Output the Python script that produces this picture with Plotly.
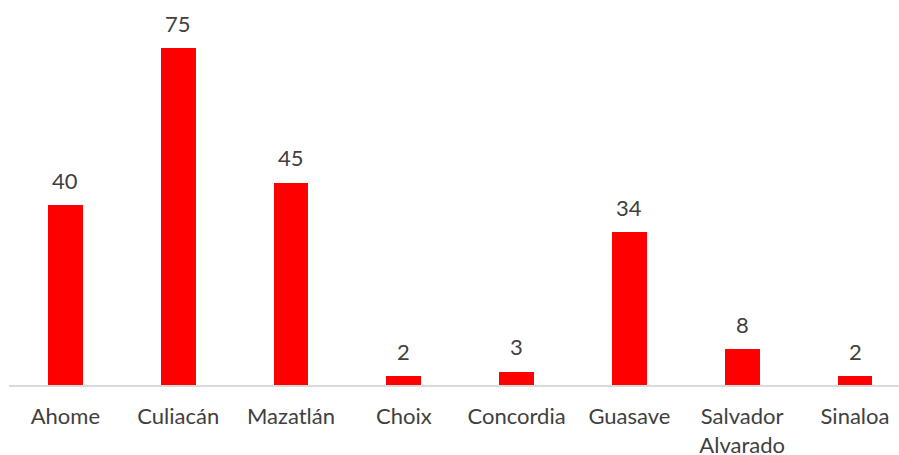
import plotly.graph_objects as go

categories = ["Ahome", "Culiacán", "Mazatlán", "Choix", "Concordia", "Guasave", "Salvador<br>Alvarado", "Sinaloa"]
values = [40, 75, 45, 2, 3, 34, 8, 2]

xpos = list(range(len(categories)))

fig = go.Figure(go.Bar(
    x=xpos, y=values, width=0.31,
    marker=dict(color="#FF0000", line=dict(width=0)),
    hoverinfo="skip",
))

for xi, v in zip(xpos, values):
    fig.add_annotation(
        x=xi, y=v, text=str(v), showarrow=False,
        yanchor="middle", yshift=25,
        font=dict(family="Lato", size=22, color="#404040"),
    )

fig.update_layout(
    width=899, height=455,
    margin=dict(l=9, r=0, t=20, b=70, autoexpand=False),
    paper_bgcolor="white", plot_bgcolor="white",
    showlegend=False,
    bargap=0,
    font=dict(family="Lato", size=22, color="#404040"),
    xaxis=dict(
        range=[-0.5, -0.5 + 890 / 112.8],
        tickvals=xpos, ticktext=categories,
        showgrid=False, zeroline=False,
        showline=True, linecolor="#D9D9D9", linewidth=2,
        ticks="", ticklabelstandoff=11, automargin=False,
        tickfont=dict(family="Lato", size=22, color="#404040"),
        fixedrange=True,
    ),
    yaxis=dict(
        range=[0, 365 / 4.49], automargin=False,
        visible=False, showgrid=False, zeroline=False, fixedrange=True,
    ),
)

fig.write_html(
    "out.html",
    config={"displayModeBar": False, "staticPlot": True},
    post_script="document.body.style.margin='0';document.body.style.overflow='hidden';",
)
